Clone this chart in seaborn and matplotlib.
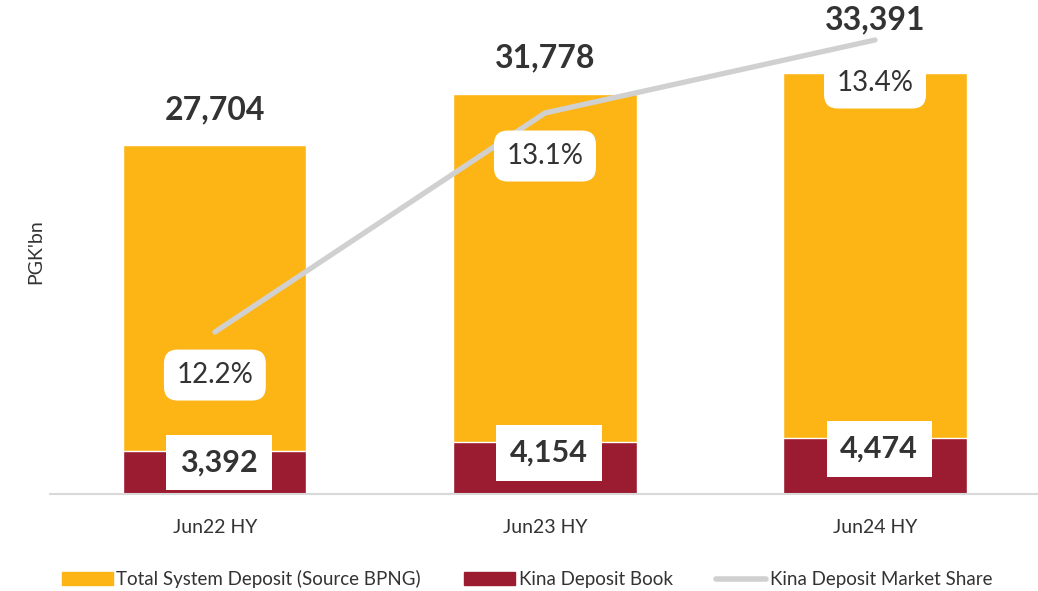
import numpy as np
import pandas as pd
import seaborn as sns
import matplotlib.pyplot as plt
from matplotlib.patches import Patch
from matplotlib.lines import Line2D

sns.set_theme(style="white")
plt.rcParams['font.family'] = ['Lato', 'DejaVu Sans']

periods = ["Jun22 HY", "Jun23 HY", "Jun24 HY"]
total_deposit = [27704, 31778, 33391]
kina_deposit = [3392, 4154, 4474]
market_share = [12.2, 13.1, 13.4]

orange = "#FDB515"
maroon = "#9B1C31"
grey = "#D0D0D0"
txt = "#333333"

df = pd.DataFrame({"period": periods, "total": total_deposit,
                   "kina": kina_deposit, "share": market_share})

fig = plt.figure(figsize=(10.38, 5.91), dpi=100)
ax = fig.add_axes([0.048, 0.164, 0.954, 0.819])

sns.barplot(data=df, x="period", y="total", color=orange, width=0.555,
            saturation=1, ax=ax)
sns.barplot(data=df, x="period", y="kina", color=maroon, width=0.555,
            saturation=1, ax=ax)
ax.set_xlim(-0.5, 2.5)
ax.set_ylim(0, 38400)
ax.set_yticks([])
ax.set_xlabel("")
ax.set_ylabel("PGK'bn", fontsize=14, color=txt, labelpad=4)
ax.tick_params(axis="x", labelsize=14, labelcolor=txt, pad=18, length=0)
sns.despine(ax=ax, left=True)
ax.spines["bottom"].set_color("#D9D9D9")
ax.spines["bottom"].set_linewidth(1.5)

ax2 = ax.twinx()
sns.lineplot(x=np.arange(len(periods)), y=market_share, color=grey,
             linewidth=3.8, ax=ax2, solid_capstyle="round")
ax2.set_ylim(11.534, 13.523)
ax2.set_yticks([])
ax2.set_ylabel("")
for s in ax2.spines.values():
    s.set_visible(False)

# total labels drawn on the top axes so they sit above the share line
label_lift = [15, 15, 28]
for i, v in enumerate(total_deposit):
    ax2.annotate(f"{v:,}", (i, v), xycoords=("data", ax.transData),
                 xytext=(0, label_lift[i]), textcoords="offset points",
                 ha="center", va="bottom", fontsize=23, fontweight="bold",
                 color=txt, zorder=6)
for i, v in enumerate(kina_deposit):
    ax2.annotate(f"{v:,}", (i, v), xycoords=("data", ax.transData),
                 xytext=(3, -8), textcoords="offset points",
                 ha="center", va="center", fontsize=22, fontweight="bold",
                 color=txt, zorder=6,
                 bbox=dict(boxstyle="square,pad=0.45", fc="white", ec="none"))

for i, v in enumerate(market_share):
    ax2.annotate(f"{v:.1f}%", (i, v), xytext=(0, -31),
                 textcoords="offset points", ha="center", va="center",
                 fontsize=20, color=txt, zorder=6,
                 bbox=dict(boxstyle="round,pad=0.45,rounding_size=0.5",
                           fc="white", ec="none"))

handles = [Patch(color=orange), Patch(color=maroon),
           Line2D([0], [0], color=grey, linewidth=4)]
labels = ["Total System Deposit (Source BPNG)", "Kina Deposit Book",
          "Kina Deposit Market Share"]
fig.legend(handles, labels, loc="lower center", bbox_to_anchor=(0.508, -0.024),
           ncol=3, frameon=False, fontsize=13.5, handlelength=2.7,
           handletextpad=0.2, columnspacing=2.3, labelcolor=txt)

fig.savefig("out.png", dpi=100)
